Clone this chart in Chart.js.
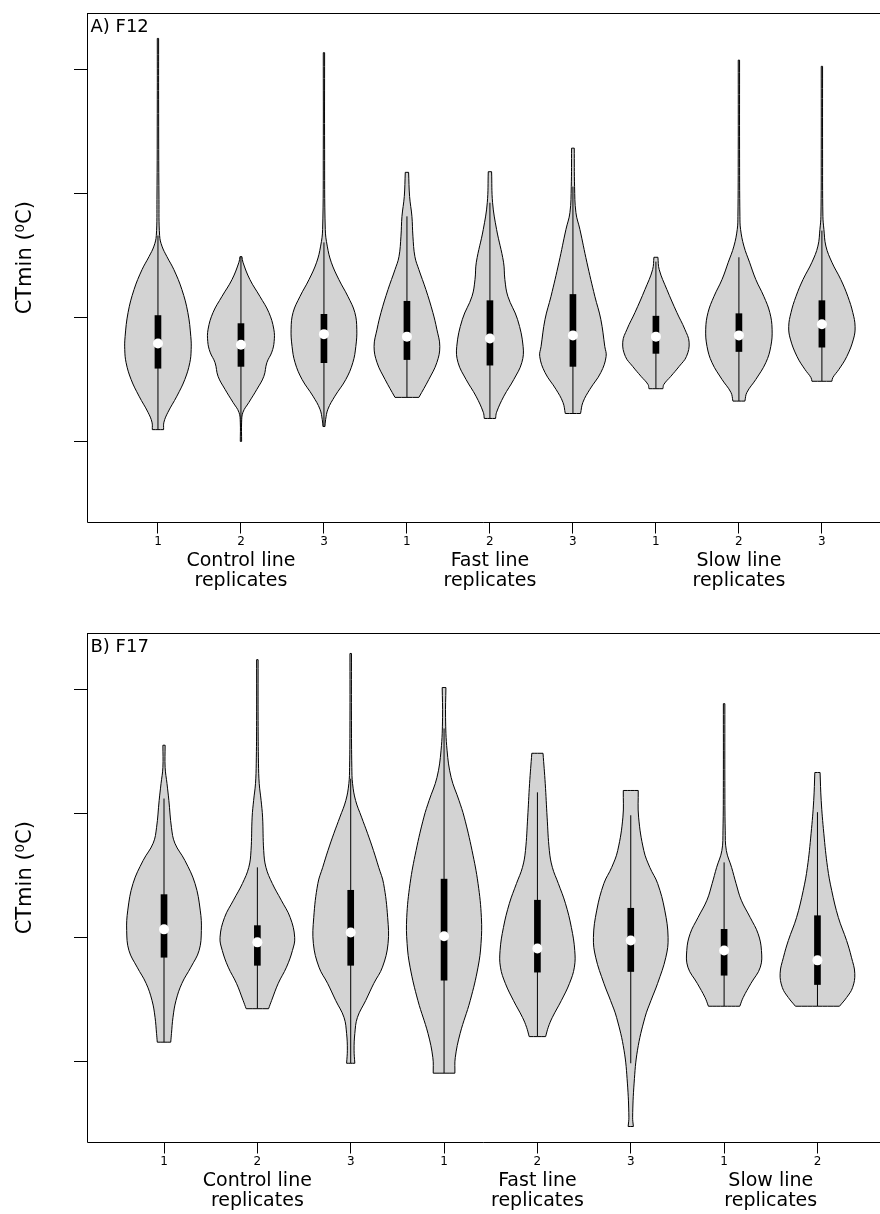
<!DOCTYPE html>
<html><head><meta charset="utf-8">
<script src="https://cdn.jsdelivr.net/npm/chart.js@4.4.1/dist/chart.umd.min.js"></script>
<style>
html,body{margin:0;padding:0;background:#fff;overflow:hidden;width:880px;height:1214px;}
canvas{position:absolute;left:0;}
#c1{top:0;} #c2{top:620px;}
</style></head><body>
<canvas id="c1" width="880" height="620"></canvas>
<canvas id="c2" width="880" height="594"></canvas>
<script>
// ---------------- DATA ----------------
const yTicks = [2, 4, 6, 8];
const tickLabelsA = ['1','2','3','1','2','3','1','2','3'];
const tickLabelsB = ['1','2','3','1','2','3','1','2'];
const groupLabels = [['Control line','replicates'],['Fast line','replicates'],['Slow line','replicates']];
const groupCentersA = [2, 5, 8];
const groupCentersB = [2, 5, 7.5];

// Panel A (F12): violin outlines, bottom to top: [CTmin, relative density width]
const A_C1 = [[2.19,0.17],[2.31,0.18],[2.47,0.30],[2.73,0.57],[3.00,0.81],[3.27,0.96],[3.48,1.00],[3.69,0.99],[4.08,0.90],[4.45,0.72],[4.77,0.48],[4.98,0.27],[5.15,0.12],[5.32,0.05],[5.90,0.03],[7.52,0.02],[8.50,0.02]];
const A_C2 = [[2.00,0.02],[2.31,0.02],[2.47,0.06],[2.63,0.24],[2.84,0.48],[3.05,0.69],[3.27,0.78],[3.44,0.93],[3.61,1.00],[3.81,0.99],[4.08,0.84],[4.34,0.57],[4.61,0.27],[4.89,0.06],[4.98,0.03]];
const A_C3 = [[2.24,0.03],[2.35,0.05],[2.52,0.12],[2.73,0.33],[3.00,0.66],[3.27,0.87],[3.53,0.96],[3.81,0.99],[4.08,0.93],[4.34,0.72],[4.61,0.45],[4.89,0.22],[5.15,0.10],[5.42,0.04],[6.71,0.02],[8.27,0.02]];
const A_F1 = [[2.71,0.36],[3.00,0.66],[3.27,0.90],[3.53,0.99],[3.81,0.90],[4.08,0.78],[4.45,0.57],[4.77,0.36],[4.98,0.24],[5.31,0.18],[5.63,0.15],[5.95,0.08],[6.34,0.05]];
const A_F2 = [[2.37,0.17],[2.47,0.20],[2.73,0.42],[3.00,0.72],[3.27,0.96],[3.53,1.00],[3.97,0.83],[4.34,0.54],[4.61,0.45],[4.89,0.41],[5.42,0.20],[5.85,0.08],[6.35,0.05]];
const A_F3 = [[2.45,0.23],[2.63,0.30],[2.84,0.51],[3.11,0.84],[3.37,1.00],[3.53,0.96],[3.97,0.84],[4.34,0.66],[4.89,0.42],[5.42,0.21],[5.69,0.09],[6.11,0.05],[6.73,0.04]];
const A_S1 = [[2.85,0.21],[2.92,0.24],[3.05,0.45],[3.21,0.70],[3.37,0.92],[3.60,1.00],[3.81,0.87],[4.08,0.63],[4.45,0.33],[4.77,0.10],[4.97,0.06]];
const A_S2 = [[2.65,0.18],[2.79,0.24],[3.00,0.51],[3.27,0.81],[3.53,0.96],[3.81,1.00],[4.08,0.93],[4.34,0.75],[4.61,0.51],[4.89,0.32],[5.15,0.15],[5.42,0.05],[5.63,0.03],[6.71,0.02],[8.15,0.02]];
const A_S3 = [[2.97,0.30],[3.03,0.33],[3.16,0.51],[3.37,0.75],[3.65,0.95],[3.85,1.00],[4.08,0.93],[4.34,0.78],[4.61,0.57],[4.89,0.30],[5.15,0.12],[5.42,0.06],[5.63,0.03],[6.71,0.02],[8.05,0.02]];
const A_whiskerLow  = [2.19, 2.18, 2.24, 2.71, 2.37, 2.45, 2.85, 2.65, 2.97];
const A_q1          = [3.18, 3.21, 3.27, 3.32, 3.23, 3.21, 3.42, 3.45, 3.52];
const A_median      = [3.58, 3.56, 3.73, 3.69, 3.66, 3.71, 3.69, 3.71, 3.89];
const A_q3          = [4.03, 3.90, 4.05, 4.26, 4.27, 4.37, 4.02, 4.06, 4.27];
const A_whiskerHigh = [5.32, 4.98, 5.21, 5.63, 5.85, 6.11, 4.90, 4.97, 5.40];

// Panel B (F17)
const B_C1 = [[2.31,0.18],[2.45,0.20],[2.71,0.24],[2.98,0.32],[3.26,0.48],[3.52,0.72],[3.79,0.94],[4.11,1.00],[4.44,0.97],[4.87,0.83],[5.24,0.56],[5.52,0.29],[5.77,0.20],[6.21,0.13],[6.48,0.08],[6.74,0.03],[7.10,0.03]];
const B_C2 = [[2.85,0.30],[2.98,0.38],[3.26,0.56],[3.52,0.78],[3.79,0.94],[4.00,1.00],[4.32,0.88],[4.60,0.64],[4.87,0.40],[5.13,0.23],[5.40,0.17],[5.94,0.14],[6.21,0.10],[6.48,0.05],[6.81,0.03],[7.50,0.02],[8.48,0.02]];
const B_C3 = [[1.97,0.11],[2.18,0.09],[2.45,0.11],[2.71,0.18],[2.98,0.40],[3.26,0.62],[3.52,0.85],[3.90,1.00],[4.32,0.99],[4.87,0.88],[5.13,0.75],[5.40,0.61],[5.68,0.45],[5.94,0.29],[6.21,0.13],[6.48,0.05],[6.74,0.03],[7.50,0.02],[8.58,0.02]];
const B_F1 = [[1.81,0.29],[2.06,0.30],[2.45,0.43],[2.98,0.70],[3.52,0.91],[3.90,0.99],[4.32,1.00],[4.87,0.91],[5.40,0.75],[5.94,0.54],[6.21,0.40],[6.58,0.19],[7.02,0.08],[7.55,0.04],[8.03,0.05]];
const B_F2 = [[2.40,0.22],[2.55,0.29],[2.71,0.40],[2.98,0.64],[3.26,0.86],[3.52,0.99],[3.79,1.00],[4.16,0.91],[4.55,0.75],[4.87,0.56],[5.13,0.40],[5.40,0.32],[5.94,0.26],[6.48,0.21],[6.97,0.15]];
const B_F3 = [[0.95,0.07],[1.10,0.05],[1.65,0.09],[2.18,0.18],[2.71,0.38],[2.98,0.54],[3.26,0.72],[3.68,0.94],[4.00,1.00],[4.44,0.91],[4.87,0.72],[5.13,0.51],[5.40,0.35],[5.94,0.21],[6.37,0.20]];
const B_S1 = [[2.89,0.42],[3.03,0.51],[3.26,0.72],[3.52,0.97],[3.79,1.00],[4.06,0.91],[4.32,0.70],[4.60,0.46],[4.87,0.32],[5.13,0.20],[5.40,0.06],[5.73,0.03],[6.53,0.02],[7.77,0.02]];
const B_S2 = [[2.89,0.59],[3.03,0.78],[3.19,0.94],[3.42,1.00],[3.68,0.91],[3.95,0.78],[4.32,0.56],[4.76,0.38],[5.13,0.27],[5.68,0.17],[6.21,0.10],[6.66,0.07]];
const B_whiskerLow  = [2.31, 2.85, 1.97, 1.81, 2.40, 1.97, 2.89, 2.89];
const B_q1          = [3.68, 3.55, 3.55, 3.31, 3.44, 3.45, 3.39, 3.24];
const B_median      = [4.13, 3.92, 4.08, 4.02, 3.82, 3.95, 3.79, 3.63];
const B_q3          = [4.69, 4.19, 4.76, 4.94, 4.60, 4.47, 4.13, 4.35];
const B_whiskerHigh = [6.24, 5.13, 6.56, 7.37, 6.34, 5.97, 5.21, 6.02];

// ---------------- RENDER ----------------
const FONT = '"DejaVu Sans", Verdana, sans-serif';
Chart.defaults.font.family = FONT;
Chart.defaults.color = '#000';
const HALF = 0.4;          // half-width of widest violin, in category units
const FRAME_MIN = 0.7;     // y value where the plot frame's bottom edge sits
const TICK_LEN = 11;       // x tick mark length (px)

function violinPoints(c, prof) {
  const R = prof.map(p => ({x: c + p[1] * HALF, y: p[0]}));
  const L = prof.map(p => ({x: c - p[1] * HALF, y: p[0]})).reverse();
  const n = R.length;
  return [...R, {...R[n-1]}, L[0], {...L[0]}, ...L.slice(1), {...L[n-1]}, {...R[0]}];
}

const framePlugin = {
  id: 'panelText',
  afterDraw(chart, args, opts) {
    const {ctx, chartArea} = chart;
    const sx = chart.scales.x, sy = chart.scales.y;
    const yb = Math.round(sy.getPixelForValue(FRAME_MIN)) + 0.5;
    const yt = chartArea.top;
    ctx.save();
    ctx.strokeStyle = '#000';
    ctx.lineWidth = 1;
    ctx.setLineDash([]);
    // frame: left and bottom edges
    ctx.beginPath();
    ctx.moveTo(chartArea.left + 0.5, yt);
    ctx.lineTo(chartArea.left + 0.5, yb);
    ctx.lineTo(chartArea.right, yb);
    ctx.stroke();
    // x tick marks
    sx.ticks.forEach(t => {
      const px = Math.round(sx.getPixelForValue(t.value) - 0.5) + 0.5;
      ctx.beginPath();
      ctx.moveTo(px, yb);
      ctx.lineTo(px, yb + TICK_LEN);
      ctx.stroke();
    });
    ctx.fillStyle = '#000';
    ctx.font = '18px ' + FONT;
    ctx.textBaseline = 'alphabetic';
    ctx.textAlign = 'left';
    ctx.fillText(opts.label, chartArea.left + 3.5, chartArea.top + 19);
    ctx.translate(26, (yt + yb) / 2 - 10);
    ctx.rotate(-Math.PI / 2);
    ctx.font = '21px ' + FONT;
    ctx.textAlign = 'center';
    ctx.textBaseline = 'middle';
    ctx.fillText('CTmin (\u2070C)', 0, 0);
    ctx.restore();
  }
};

function makePanel(id, H, label, profiles, wl, q1, md, q3, wh, tickLabels, groupCenters, xMin, xMax) {
  const datasets = [];
  profiles.forEach((prof, i) => {
    datasets.push({type: 'line', data: violinPoints(i + 1, prof), borderColor: '#000', borderWidth: 1,
      backgroundColor: '#d3d3d3', fill: 'shape', tension: 0.4, pointRadius: 0, order: 3,
      xAxisID: 'x', yAxisID: 'y'});
  });
  const whisk = [];
  wl.forEach((v, i) => { whisk.push({x: i + 1, y: v}, {x: i + 1, y: wh[i]}, {x: i + 1, y: null}); });
  datasets.push({type: 'line', data: whisk, borderColor: '#000', borderWidth: 1, pointRadius: 0,
    fill: false, tension: 0, spanGaps: false, order: 2, xAxisID: 'x', yAxisID: 'y'});
  datasets.push({type: 'bar', data: q1.map((v, i) => ({x: i + 1, y: [v, q3[i]]})), backgroundColor: '#000',
    borderWidth: 0, barThickness: 6, order: 1, xAxisID: 'x', yAxisID: 'y'});
  datasets.push({type: 'scatter', data: md.map((v, i) => ({x: i + 1, y: v})), pointRadius: 5,
    pointBackgroundColor: '#fff', pointBorderColor: '#fff', pointBorderWidth: 0, order: 0,
    xAxisID: 'x', yAxisID: 'y'});

  const zeroPad = s => { s.paddingLeft = 0; s.paddingRight = 0; s.paddingTop = 0; s.paddingBottom = 0; };
  new Chart(document.getElementById(id), {
    type: 'scatter',
    data: {datasets},
    options: {
      responsive: false, animation: false, events: [],
      layout: {autoPadding: false, padding: 0},
      plugins: {legend: {display: false}, tooltip: {enabled: false}, panelText: {label}},
      scales: {
        x: {type: 'linear', axis: 'x', position: 'bottom', weight: 0, min: xMin, max: xMax, offset: false,
          afterBuildTicks: s => { s.ticks = tickLabels.map((_, i) => ({value: i + 1})); },
          ticks: {callback: (v, i) => tickLabels[i], font: {size: 12}, color: '#000', padding: 1, maxRotation: 0, autoSkip: false},
          grid: {display: false, offset: false, drawTicks: false},
          border: {display: false},
          afterFit: s => { s.height = 17; zeroPad(s); }},
        xg: {type: 'linear', axis: 'x', position: 'bottom', weight: 1, min: xMin, max: xMax, offset: false,
          afterBuildTicks: s => { s.ticks = groupCenters.map(v => ({value: v})); },
          ticks: {callback: (v, i) => groupLabels[i], font: {size: 19, lineHeight: 20 / 19}, color: '#000', padding: 0, maxRotation: 0, autoSkip: false},
          grid: {display: false, offset: false, drawTicks: false},
          border: {display: false},
          afterFit: s => { s.height = H - 551; zeroPad(s); }},
        xt: {type: 'linear', axis: 'x', position: 'top', min: xMin, max: xMax, offset: false,
          ticks: {display: false}, grid: {display: false, offset: false, drawTicks: false},
          border: {display: true, color: '#000', width: 1},
          afterFit: s => { s.height = 13; zeroPad(s); }},
        y: {type: 'linear', axis: 'y', position: 'left', min: 0.5065, max: 8.91, offset: false,
          afterBuildTicks: s => { s.ticks = yTicks.map(v => ({value: v})); },
          ticks: {display: false},
          grid: {display: true, offset: false, drawOnChartArea: false, drawTicks: true, tickLength: 13, color: '#000', lineWidth: 1},
          border: {display: false},
          afterFit: s => { s.width = 87; zeroPad(s); }}
      }
    },
    plugins: [framePlugin]
  });
}

makePanel('c1', 620, 'A) F12', [A_C1, A_C2, A_C3, A_F1, A_F2, A_F3, A_S1, A_S2, A_S3],
  A_whiskerLow, A_q1, A_median, A_q3, A_whiskerHigh, tickLabelsA, groupCentersA, 0.145, 9.70);
makePanel('c2', 594, 'B) F17', [B_C1, B_C2, B_C3, B_F1, B_F2, B_F3, B_S1, B_S2],
  B_whiskerLow, B_q1, B_median, B_q3, B_whiskerHigh, tickLabelsB, groupCentersB, 0.175, 8.67);
</script>
</body></html>
